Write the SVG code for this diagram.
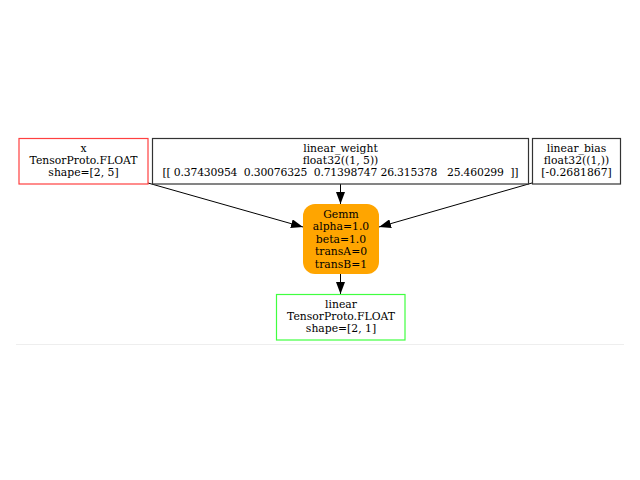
<svg xmlns="http://www.w3.org/2000/svg" width="640" height="480" viewBox="0 0 640 480">
<defs>
<style>
text{font-family:"DejaVu Serif","Liberation Serif",serif;font-size:10.8px;fill:#000;text-anchor:middle;white-space:pre}
.box{fill:#fff;stroke-width:1.2}
.edge{stroke:#000;stroke-width:1;fill:none}
</style>
<marker id="arr" viewBox="0 0 12 9" refX="12" refY="4.5" markerWidth="12" markerHeight="9" markerUnits="userSpaceOnUse" orient="auto">
<path d="M0,0 L12,4.5 L0,9 z" fill="#000"/>
</marker>
</defs>
<rect width="640" height="480" fill="#fff"/>
<line x1="16" y1="344.5" x2="624" y2="344.5" stroke="#eeeeee" stroke-width="1"/>
<g id="connectors">
<path class="edge" d="M148,183 L303,227" marker-end="url(#arr)"/>
<path class="edge" d="M340.5,184 L340.5,204" marker-end="url(#arr)"/>
<path class="edge" d="M532,183 L379,227" marker-end="url(#arr)"/>
<path class="edge" d="M340.5,274 L340.5,294" marker-end="url(#arr)"/>
</g>
<g id="node-x">
<rect class="box" x="19" y="138.5" width="129" height="45.5" stroke="#ff4040"/>
<text x="83.5" y="151.5">x</text>
<text x="83.5" y="163.5">TensorProto.FLOAT</text>
<text x="83.5" y="175.5">shape=[2, 5]</text>
</g>
<g id="node-linear_weight">
<rect class="box" x="152.5" y="138.5" width="376" height="45.5" stroke="#333"/>
<text x="340.5" y="151.5">linear_weight</text>
<text x="340.5" y="163.5">float32((1, 5))</text>
<text x="340.5" y="175.5" textLength="356" lengthAdjust="spacing">[[ 0.37430954  0.30076325  0.71398747 26.315378   25.460299  ]]</text>
</g>
<g id="node-linear_bias">
<rect class="box" x="532.5" y="138.5" width="88" height="45.5" stroke="#333"/>
<text x="576.5" y="151.5">linear_bias</text>
<text x="576.5" y="163.5">float32((1,))</text>
<text x="576.5" y="175.5">[-0.2681867]</text>
</g>
<g id="node-Gemm">
<rect x="303" y="204" width="76" height="70" rx="12" ry="12" fill="#ffa500"/>
<text x="341" y="218">Gemm</text>
<text x="341" y="230">alpha=1.0</text>
<text x="341" y="242.5">beta=1.0</text>
<text x="341" y="255">transA=0</text>
<text x="341" y="267.5">transB=1</text>
</g>
<g id="node-linear">
<rect class="box" x="276.5" y="294.5" width="128.5" height="45.5" stroke="#40ff40"/>
<text x="341" y="307.5">linear</text>
<text x="341" y="319.5">TensorProto.FLOAT</text>
<text x="341" y="331.5">shape=[2, 1]</text>
</g>
</svg>
